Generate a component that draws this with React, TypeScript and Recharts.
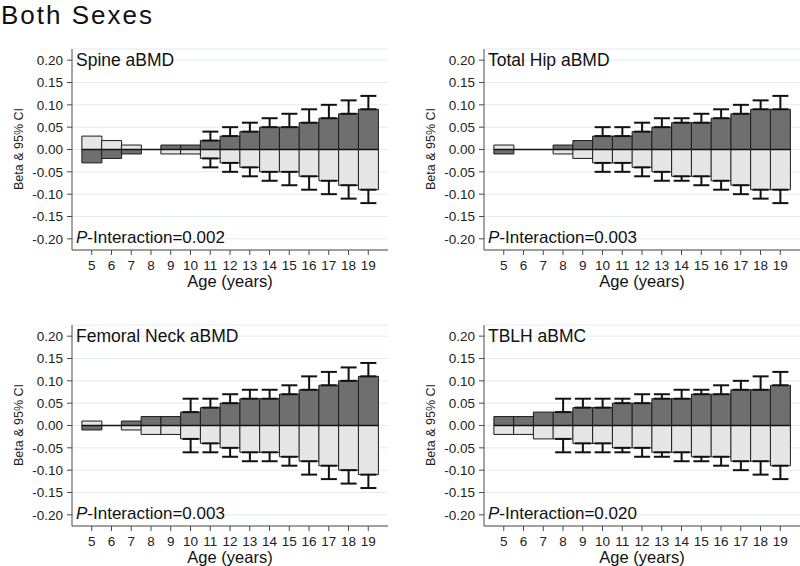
import React from 'react';
import { BarChart, Bar, XAxis, YAxis, CartesianGrid, ErrorBar, ReferenceLine } from 'recharts';

const ages = [5, 6, 7, 8, 9, 10, 11, 12, 13, 14, 15, 16, 17, 18, 19];
const yTicks = [-0.2, -0.15, -0.1, -0.05, 0, 0.05, 0.1, 0.15, 0.2];

// Spine aBMD
const spineDark = [-0.03, -0.02, -0.01, 0, 0.01, 0.01, 0.02, 0.03, 0.04, 0.05, 0.05, 0.06, 0.07, 0.08, 0.09];
const spineLight = [0.03, 0.02, 0.01, 0, -0.01, -0.01, -0.02, -0.03, -0.04, -0.05, -0.05, -0.06, -0.07, -0.08, -0.09];
const spineUpper = [null, null, null, null, null, null, 0.04, 0.05, 0.06, 0.07, 0.08, 0.09, 0.1, 0.11, 0.12];
const spineLower = [null, null, null, null, null, null, -0.04, -0.05, -0.06, -0.07, -0.08, -0.09, -0.1, -0.11, -0.12];

// Total Hip aBMD
const hipDark = [-0.01, 0, 0, 0.01, 0.02, 0.03, 0.03, 0.04, 0.05, 0.06, 0.06, 0.07, 0.08, 0.09, 0.09];
const hipLight = [0.01, 0, 0, -0.01, -0.02, -0.03, -0.03, -0.04, -0.05, -0.06, -0.06, -0.07, -0.08, -0.09, -0.09];
const hipUpper = [null, null, null, null, null, 0.05, 0.05, 0.06, 0.07, 0.07, 0.08, 0.09, 0.1, 0.11, 0.12];
const hipLower = [null, null, null, null, null, -0.05, -0.05, -0.06, -0.07, -0.07, -0.08, -0.09, -0.1, -0.11, -0.12];

// Femoral Neck aBMD
const neckDark = [-0.01, 0, 0.01, 0.02, 0.02, 0.03, 0.04, 0.05, 0.06, 0.06, 0.07, 0.08, 0.09, 0.1, 0.11];
const neckLight = [0.01, 0, -0.01, -0.02, -0.02, -0.03, -0.04, -0.05, -0.06, -0.06, -0.07, -0.08, -0.09, -0.1, -0.11];
const neckUpper = [null, null, null, null, null, 0.06, 0.06, 0.07, 0.08, 0.08, 0.09, 0.11, 0.12, 0.13, 0.14];
const neckLower = [null, null, null, null, null, -0.06, -0.06, -0.07, -0.08, -0.08, -0.09, -0.11, -0.12, -0.13, -0.14];

// TBLH aBMC
const tblhDark = [0.02, 0.02, 0.03, 0.03, 0.04, 0.04, 0.05, 0.05, 0.06, 0.06, 0.07, 0.07, 0.08, 0.08, 0.09];
const tblhLight = [-0.02, -0.02, -0.03, -0.03, -0.04, -0.04, -0.05, -0.05, -0.06, -0.06, -0.07, -0.07, -0.08, -0.08, -0.09];
const tblhUpper = [null, null, null, 0.06, 0.06, 0.06, 0.06, 0.07, 0.07, 0.08, 0.08, 0.09, 0.1, 0.11, 0.12];
const tblhLower = [null, null, null, -0.06, -0.06, -0.06, -0.06, -0.07, -0.07, -0.08, -0.08, -0.09, -0.1, -0.11, -0.12];

const FONT = '"Liberation Sans", Arial, Helvetica, sans-serif';
const DARK = '#6f6f6f';
const LIGHT = '#e6e6e6';
const OUTLINE = '#1a1a1a';
const AXIS = '#4a4a4a';
const GRID = '#e3ebef';

type PanelProps = {
  left: number;
  top: number;
  title: string;
  pValue: string;
  dark: number[];
  light: number[];
  upper: (number | null)[];
  lower: (number | null)[];
};

const CHART_W = 388;
const CHART_H = 251;
const Y_W = 72;
const PLOT_TOP = 10;
const PAD = 9.875;

function Panel({ left, top, title, pValue, dark, light, upper, lower }: PanelProps) {
  const data = ages.map((age, i) => ({
    age,
    dark: dark[i],
    light: light[i],
    darkErr: upper[i] == null ? null : [0, (upper[i] as number) - dark[i]],
    lightErr: lower[i] == null ? null : [light[i] - (lower[i] as number), 0],
  }));
  const plotCenterX = left + Y_W + (CHART_W - Y_W) / 2;
  return (
    <>
      <div style={{ position: 'absolute', left, top, width: CHART_W, height: CHART_H }}>
        <BarChart
          width={CHART_W}
          height={CHART_H}
          data={data}
          margin={{ top: PLOT_TOP, right: 0, bottom: 0, left: 0 }}
          barCategoryGap={0}
          barGap={0}
        >
          <CartesianGrid horizontal vertical={false} stroke={GRID} strokeWidth={1} />
          <XAxis
            dataKey="age"
            type="category"
            interval={0}
            padding={{ left: PAD, right: PAD }}
            height={40}
            tickSize={5}
            tickMargin={5}
            axisLine={{ stroke: AXIS }}
            tickLine={{ stroke: AXIS }}
            tick={{ fill: '#222', fontSize: 13.5, fontFamily: FONT }}
          />
          <XAxis xAxisId="b" dataKey="age" type="category" hide padding={{ left: PAD, right: PAD }} />
          <XAxis xAxisId="c" dataKey="age" type="number" hide domain={[4, 20]} allowDataOverflow />
          <YAxis
            width={Y_W}
            type="number"
            domain={[-0.225, 0.225]}
            allowDataOverflow
            ticks={yTicks}
            interval={0}
            tickFormatter={(v: number) => v.toFixed(2)}
            tickSize={5}
            tickMargin={4}
            axisLine={{ stroke: AXIS }}
            tickLine={{ stroke: AXIS }}
            tick={{ fill: '#222', fontSize: 13.5, fontFamily: FONT }}
          />
          <Bar dataKey="dark" fill={DARK} stroke={OUTLINE} strokeWidth={1} isAnimationActive={false}>
            <ErrorBar dataKey="darkErr" width={8} stroke="#111" strokeWidth={2} direction="y" />
          </Bar>
          <Bar xAxisId="b" dataKey="light" fill={LIGHT} stroke={OUTLINE} strokeWidth={1} isAnimationActive={false}>
            <ErrorBar dataKey="lightErr" width={8} stroke="#111" strokeWidth={2} direction="y" />
          </Bar>
          <ReferenceLine
            xAxisId="c"
            segment={[{ x: 4.5, y: 0 }, { x: 19.5, y: 0 }]}
            stroke="#111"
            strokeWidth={1.5}
          />
        </BarChart>
      </div>
      <div
        style={{
          position: 'absolute',
          left: left + Y_W + 4,
          top: top + 12.5,
          fontSize: 17.5,
          lineHeight: '17.5px',
          whiteSpace: 'nowrap',
          color: '#111',
        }}
      >
        {title}
      </div>
      <div
        style={{
          position: 'absolute',
          left: left + Y_W + 4,
          top: top + 190,
          fontSize: 17,
          lineHeight: '17px',
          whiteSpace: 'nowrap',
          color: '#111',
        }}
      >
        <i>P</i>-Interaction={pValue}
      </div>
      <div
        style={{
          position: 'absolute',
          left: plotCenterX - 60,
          width: 120,
          textAlign: 'center',
          top: top + 234,
          fontSize: 16.5,
          lineHeight: '16.5px',
          whiteSpace: 'nowrap',
          color: '#111',
        }}
      >
        Age (years)
      </div>
      <div
        style={{
          position: 'absolute',
          left: left + 19 - 60,
          top: top + 110 - 8,
          width: 120,
          height: 16,
          textAlign: 'center',
          fontSize: 12.5,
          lineHeight: '16px',
          whiteSpace: 'nowrap',
          color: '#222',
          transform: 'rotate(-90deg)',
        }}
      >
        Beta &amp; 95% CI
      </div>
    </>
  );
}

export default function App() {
  return (
    <div
      style={{
        position: 'absolute',
        left: 0,
        top: 0,
        width: 800,
        height: 566,
        background: '#fff',
        fontFamily: FONT,
        overflow: 'hidden',
      }}
    >
      <div
        style={{
          position: 'absolute',
          left: 1,
          top: 0,
          fontSize: 26,
          lineHeight: 'normal',
          letterSpacing: 2,
          whiteSpace: 'nowrap',
          color: '#111',
        }}
      >
        Both Sexes
      </div>
      <Panel left={0} top={39} title="Spine aBMD" pValue="0.002" dark={spineDark} light={spineLight} upper={spineUpper} lower={spineLower} />
      <Panel left={412} top={39} title="Total Hip aBMD" pValue="0.003" dark={hipDark} light={hipLight} upper={hipUpper} lower={hipLower} />
      <Panel left={0} top={315} title="Femoral Neck aBMD" pValue="0.003" dark={neckDark} light={neckLight} upper={neckUpper} lower={neckLower} />
      <Panel left={412} top={315} title="TBLH aBMC" pValue="0.020" dark={tblhDark} light={tblhLight} upper={tblhUpper} lower={tblhLower} />
    </div>
  );
}
